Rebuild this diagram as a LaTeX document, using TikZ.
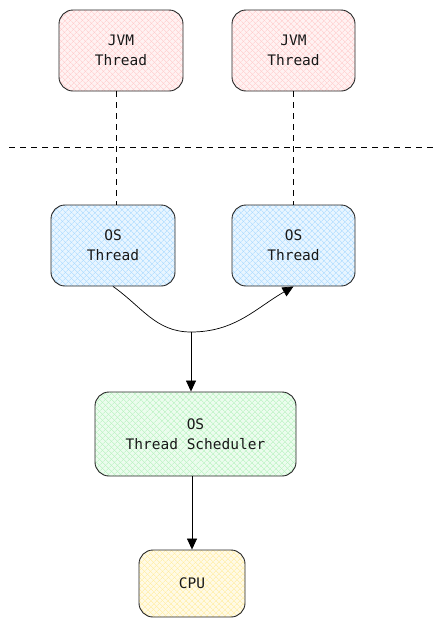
\documentclass[tikz,border=0pt]{standalone}
\usepackage{fontspec}
\setmonofont{DejaVu Sans Mono}
\usetikzlibrary{arrows.meta,patterns.meta}
\definecolor{jvmred}{HTML}{FFC9C9}
\definecolor{osblue}{HTML}{A5D8FF}
\definecolor{schedgreen}{HTML}{B2F2BB}
\definecolor{cpuyellow}{HTML}{FFEC99}
\tikzset{
  box/.style={draw=black!85, line width=0.9pt, rounded corners=14pt, align=center,
    font=\ttfamily\fontsize{14.5}{20}\selectfont, text=black!90,
    preaction={fill=#1!25},
    preaction={pattern={Lines[angle=45,distance=4pt,line width=0.5pt]}, pattern color=#1},
    preaction={pattern={Lines[angle=-45,distance=4pt,line width=0.5pt]}, pattern color=#1}},
  link/.style={dash pattern=on 6pt off 5pt, line width=0.9pt},
  flow/.style={-{Triangle[length=11pt,width=10pt]}, line width=0.7pt}
}
\begin{document}
\begin{tikzpicture}[x=1pt,y=-1pt]
      \useasboundingbox (0,0) rectangle (438,627);

      \node [box=jvmred, minimum width=124pt, minimum height=81pt] (jvmA) at (121, 50.5) {JVM\\Thread};
      \node [box=jvmred, minimum width=123pt, minimum height=81pt] (jvmB) at (293.5, 50.5) {JVM\\Thread};

      \node [box=osblue, minimum width=124pt, minimum height=81pt] (osA) at (113, 245.5) {OS\\Thread};
      \node [box=osblue, minimum width=123pt, minimum height=81pt] (osB) at (293.5, 245.5) {OS\\Thread};

      \node [box=schedgreen, minimum width=201pt, minimum height=84pt] (sched) at (195.5, 434) {OS\\Thread Scheduler};
      \node [box=cpuyellow, minimum width=106pt, minimum height=67pt] (cpu) at (192, 583.5) {CPU};

      % boundary between JVM and OS
      \coordinate (lineL) at (9, 147);
      \coordinate (lineR) at (438, 147);
      \draw [link] (lineL) -- (lineR);

      \draw [link] ([xshift=-5pt]jvmA.south) -- ([xshift=3pt]osA.north);
      \draw [link] (jvmB.south) -- (osB.north);

      \coordinate (merge) at (191, 332);
      \draw [line width=0.7pt] (osA.south) to [out=-35, in=180] (merge);
      \draw [flow] (merge) to [out=0, in=-150] (osB.south);

      \draw [flow] (merge) -- (merge |- sched.north);
      \draw [flow] (sched.south -| cpu.north) -- (cpu.north);
    \end{tikzpicture}
\end{document}
